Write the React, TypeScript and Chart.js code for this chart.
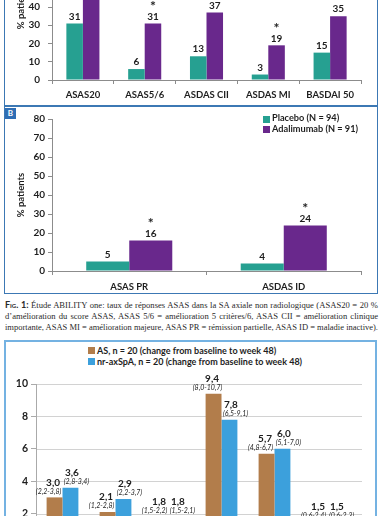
import React, { useEffect, useRef } from "react";
import { Chart, registerables } from "chart.js";
Chart.register(...registerables);

const FONT = "Lato, 'Noto Sans', sans-serif";
Chart.defaults.font.family = FONT;

// ---------- Panel A ----------
const catsA = ["ASAS20", "ASAS5/6", "ASDAS CII", "ASDAS MI", "BASDAI 50"];
const placeboA = [31, 6, 13, 3, 15];
const adalimumabA = [52, 31, 37, 19, 35];
const starA = [false, true, false, true, false];

// ---------- Panel B ----------
const catsB = ["ASAS PR", "ASDAS ID"];
const placeboB = [5, 4];
const adalimumabB = [16, 24];
const starB = [true, true];
const legendB = ["Placebo (N = 94)", "Adalimumab (N = 91)"];

// ---------- Panel C ----------
const catsC = ["G1", "G2", "G3", "G4", "G5", "G6"];
const asVals = [3.0, 2.1, 1.8, 9.4, 5.7, 1.5];
const nrVals = [3.6, 2.9, 1.8, 7.8, 6.0, 1.5];
const asCI = ["(2,2-3,8)", "(1,2-2,8)", "(1,5-2,2)", "(8,0-10,7)", "(4,8-6,7)", "(0,6-2,4)"];
const nrCI = ["(2,8-3,4)", "(2,2-3,7)", "(1,5-2,1)", "(6,5-9,1)", "(5,1-7,0)", "(0,6-2,3)"];
const legendC = [
  "AS, n = 20 (change from baseline to week 48)",
  "nr-axSpA, n = 20 (change from baseline to week 48)",
];

const captionLines = [
  "Étude ABILITY one: taux de réponses ASAS dans la SA axiale non radiologique (ASAS20 = 20 %",
  "d’amélioration du score ASAS, ASAS 5/6 = amélioration 5 critères/6, ASAS CII = amélioration clinique",
  "importante, ASAS MI = amélioration majeure, ASAS PR = rémission partielle, ASAS ID = maladie inactive).",
];

const TEAL = "#26a091";
const PURPLE = "#69288c";
const BROWN = "#b27d4b";
const SKY = "#3ca0dc";
const FRAME = "#3c78b4";
const FRAME_C = "#74b2e2";
const AXIS = "#8c8c8c";
const TXT = "#1e1e1e";

const fmt = (v: number) => v.toFixed(1).replace(".", ",");

function abLabels(stars: boolean[]) {
  return {
    id: "abLabels",
    afterDatasetsDraw(chart: any) {
      const ctx = chart.ctx;
      ctx.save();
      ctx.fillStyle = TXT;
      ctx.textAlign = "center";
      ctx.textBaseline = "middle";
      chart.data.datasets.forEach((ds: any, di: number) => {
        chart.getDatasetMeta(di).data.forEach((bar: any, i: number) => {
          ctx.font = `bold 10px ${FONT}`;
          ctx.fillText(String(ds.data[i]), bar.x, bar.y - 7);
          if (di === 1 && stars[i]) {
            ctx.font = `bold 14px ${FONT}`;
            ctx.fillText("*", bar.x, bar.y - 17);
          }
        });
      });
      ctx.restore();
    },
  };
}

function makeAB(
  cats: string[],
  plac: number[],
  ada: number[],
  stars: boolean[],
  o: { padTop: number; xH: number; yPad: number; xPad: number; cp: number }
) {
  return {
    type: "bar",
    data: {
      labels: cats,
      datasets: [
        { label: legendB[0], data: plac, backgroundColor: TEAL, categoryPercentage: o.cp, barPercentage: 1, borderWidth: 0 },
        { label: legendB[1], data: ada, backgroundColor: PURPLE, categoryPercentage: o.cp, barPercentage: 1, borderWidth: 0 },
      ],
    },
    options: {
      animation: false,
      responsive: false,
      layout: { padding: { left: 0, right: 21, top: o.padTop, bottom: 0 } },
      plugins: { legend: { display: false }, tooltip: { enabled: false } },
      scales: {
        x: {
          offset: true,
          grid: { display: true, drawOnChartArea: false, offset: true, tickLength: 4, color: AXIS },
          border: { color: AXIS },
          ticks: { color: TXT, font: { size: 9.5, weight: "bold" }, padding: o.xPad, maxRotation: 0, autoSkip: false },
          afterFit: (s: any) => { s.height = o.xH; },
        },
        y: {
          min: 0,
          max: 80,
          ticks: { stepSize: 10, color: TXT, font: { size: 10, weight: "bold" }, padding: o.yPad },
          grid: { drawOnChartArea: false, tickLength: 4, color: AXIS },
          border: { color: AXIS },
          title: { display: true, text: "% patients", color: TXT, font: { size: 9.5, weight: "bold" }, padding: { top: 15, bottom: 0 } },
          afterFit: (s: any) => { s.width = 52; },
        },
      },
    },
    plugins: [abLabels(stars)],
  };
}

const cLabels = {
  id: "cLabels",
  beforeDatasetsDraw(chart: any) {
    const ctx = chart.ctx;
    const y = chart.scales.y;
    const { left, right } = chart.chartArea;
    ctx.save();
    ctx.strokeStyle = "#d2d2d2";
    ctx.lineWidth = 1;
    y.ticks.forEach((t: any) => {
      if (t.value === 0) return;
      const py = Math.round(y.getPixelForValue(t.value)) + 0.5;
      ctx.beginPath();
      ctx.moveTo(left + 1, py);
      ctx.lineTo(right + 8, py);
      ctx.stroke();
    });
    ctx.restore();
  },
  afterDatasetsDraw(chart: any) {
    const ctx = chart.ctx;
    ctx.save();
    ctx.fillStyle = TXT;
    ctx.textAlign = "center";
    ctx.textBaseline = "middle";
    const cis = [asCI, nrCI];
    chart.data.datasets.forEach((ds: any, di: number) => {
      chart.getDatasetMeta(di).data.forEach((bar: any, i: number) => {
        ctx.font = `bold 10px ${FONT}`;
        ctx.fillText(fmt(ds.data[i]), bar.x + (di === 0 ? -1.5 : 1.5), bar.y - 15);
        ctx.font = `italic 7px ${FONT}`;
        ctx.fillText(cis[di][i], bar.x + (di === 0 ? -6 : 6), bar.y - 6);
      });
    });
    ctx.restore();
  },
};

function makeC() {
  return {
    type: "bar",
    data: {
      labels: catsC,
      datasets: [
        { label: legendC[0], data: asVals, backgroundColor: BROWN, categoryPercentage: 0.6, barPercentage: 1, borderWidth: 0 },
        { label: legendC[1], data: nrVals, backgroundColor: SKY, categoryPercentage: 0.6, barPercentage: 1, borderWidth: 0 },
      ],
    },
    options: {
      animation: false,
      responsive: false,
      layout: { padding: { left: 0, right: 28, top: 44, bottom: 0 } },
      plugins: { legend: { display: false }, tooltip: { enabled: false } },
      scales: {
        x: {
          offset: true,
          grid: { display: false },
          border: { color: "#aaaaaa" },
          ticks: { display: false },
          afterFit: (s: any) => { s.height = 30; },
        },
        y: {
          min: 0,
          max: 10,
          ticks: { stepSize: 2, color: TXT, font: { size: 10.5, weight: "bold" }, padding: 3 },
          grid: { drawOnChartArea: false, tickLength: 5, color: "#aaaaaa" },
          border: { color: "#aaaaaa" },
          afterFit: (s: any) => { s.width = 36; },
        },
      },
    },
    plugins: [cLabels],
  };
}

function ChartBox(props: { make: () => any; left: number; top: number; width: number; height: number }) {
  const ref = useRef<HTMLCanvasElement>(null);
  useEffect(() => {
    const chart = new Chart(ref.current as HTMLCanvasElement, props.make());
    return () => chart.destroy();
  }, []);
  return (
    <canvas
      ref={ref}
      width={props.width}
      height={props.height}
      style={{ position: "absolute", left: props.left, top: props.top, width: props.width, height: props.height }}
    />
  );
}

function FitLine(props: { width: number; children: any; style?: any }) {
  const ref = useRef<HTMLSpanElement>(null);
  useEffect(() => {
    const el = ref.current as HTMLSpanElement;
    const w = el.getBoundingClientRect().width;
    if (w > props.width) {
      el.style.transform = `scaleX(${props.width / w})`;
    } else {
      const n = ((el.textContent || "").match(/ /g) || []).length;
      if (n) el.style.wordSpacing = `${(props.width - w) / n}px`;
    }
  }, []);
  return (
    <div style={{ height: 11.7, lineHeight: "11.7px", whiteSpace: "nowrap", ...(props.style || {}) }}>
      <span ref={ref} style={{ display: "inline-block", whiteSpace: "pre", transformOrigin: "left center" }}>
        {props.children}
      </span>
    </div>
  );
}

const swatch = (color: string, left: number, top: number) => (
  <div style={{ position: "absolute", left, top, width: 7, height: 7, background: color }} />
);

export default function App() {
  return (
    <div style={{ position: "fixed", left: 0, top: 0, width: 382, height: 516, overflow: "hidden", background: "#fff" }}>
      {/* frames */}
      <div style={{ position: "absolute", left: 4, top: -10, width: 374, height: 116.5, border: `1.5px solid ${FRAME}`, boxSizing: "border-box" }} />
      <div style={{ position: "absolute", left: 4, top: 105, width: 374, height: 189, border: `1.5px solid ${FRAME}`, boxSizing: "border-box" }} />

      <ChartBox
        make={() => makeAB(catsA, placeboA, adalimumabA, starA, { padTop: 8, xH: 26, yPad: 8, xPad: 5, cp: 0.535 })}
        left={0}
        top={-80}
        width={382}
        height={186}
      />
      <ChartBox
        make={() => makeAB(catsB, placeboB, adalimumabB, starB, { padTop: 13, xH: 22, yPad: 3, xPad: 6, cp: 0.557 })}
        left={0}
        top={106}
        width={382}
        height={187}
      />

      {/* B tag */}
      <div style={{ position: "absolute", left: 5, top: 107.5, width: 11, height: 11, background: "#2f6eb5", color: "#fff", font: `bold 8px ${FONT}`, lineHeight: "11px", textAlign: "center" }}>B</div>

      {/* legend B */}
      {swatch(TEAL, 263, 115.5)}
      {swatch(PURPLE, 263, 126)}
      <div style={{ position: "absolute", left: 272, top: 113, font: `bold 9.2px ${FONT}`, color: TXT, lineHeight: "10.5px", whiteSpace: "nowrap" }}>
        <div>{legendB[0]}</div>
        <div>{legendB[1]}</div>
      </div>

      {/* caption */}
      <div style={{ position: "absolute", left: 5, top: 299, width: 373, fontFamily: "'Liberation Serif', 'DejaVu Serif', serif", fontSize: 8.6, color: "#2a2a2a" }}>
        <FitLine width={373}>
          <b style={{ fontFamily: FONT, fontVariant: "small-caps", fontSize: 9 }}>Fig. 1:</b>{" " + captionLines[0]}
        </FitLine>
        <FitLine width={373}>{captionLines[1]}</FitLine>
        <FitLine width={373}>{captionLines[2]}</FitLine>
      </div>

      {/* frame C */}
      <div style={{ position: "absolute", left: 4, top: 339.5, width: 373, height: 200, border: `2px solid ${FRAME_C}`, boxSizing: "border-box" }} />
      {swatch(BROWN, 88, 347)}
      {swatch(SKY, 88, 358)}
      <div style={{ position: "absolute", left: 97, top: 345, font: `bold 9px ${FONT}`, color: TXT, lineHeight: "11px", whiteSpace: "nowrap" }}>
        <div>{legendC[0]}</div>
        <div>{legendC[1]}</div>
      </div>

      <ChartBox make={makeC} left={0} top={340} width={382} height={236} />
    </div>
  );
}
